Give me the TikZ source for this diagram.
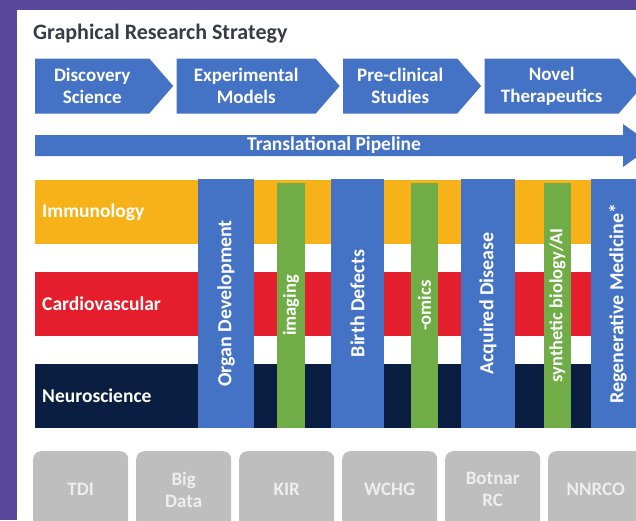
\documentclass[tikz,border=0pt]{standalone}
\usepackage{fontspec}
\setmainfont{Carlito}
\usetikzlibrary{positioning,shapes.symbols}

\definecolor{framepurple}{RGB}{88,72,156}
\definecolor{stageblue}{RGB}{68,114,196}
\definecolor{immyellow}{RGB}{246,178,24}
\definecolor{cardred}{RGB}{228,30,44}
\definecolor{neuronavy}{RGB}{10,30,66}
\definecolor{toolgreen}{RGB}{112,173,71}
\definecolor{unitgray}{RGB}{190,190,190}
\definecolor{unittext}{RGB}{238,238,238}
\definecolor{titlegray}{RGB}{55,60,70}

\begin{document}
\begin{tikzpicture}[x=1pt, y=-1pt,
    stage/.style={signal, signal to=east, signal pointer angle=98, fill=stageblue,
      text=white, font=\bfseries\fontsize{19}{22}\selectfont, align=center,
      minimum height=55pt, inner sep=2pt},
    track/.style={fill=#1, text=white, font=\bfseries\fontsize{19.5}{20}\selectfont,
      minimum height=64pt, text width=542pt, inner sep=7pt, align=left, anchor=north west},
    theme/.style={fill=#1, text=white, rotate=90, inner sep=0pt},
    unit/.style={fill=unitgray, text=unittext, font=\bfseries\fontsize{19}{22}\selectfont,
      rounded corners=8pt, minimum width=95pt, minimum height=77pt, align=center,
      anchor=north west, inner sep=0pt}]
    \def \rowleft{35}
    \def \big{\bfseries\fontsize{20}{20}\selectfont}
    \def \thin{\bfseries\fontsize{18.5}{20}\selectfont}

    \useasboundingbox (0,0) rectangle (636,520);
    \clip (0,0) rectangle (636,520);
    \fill[framepurple] (0,0) rectangle (636,520);
    \fill[white] (17,10) rectangle (660,540);

    \node[anchor=base west, inner sep=0pt, text=titlegray,
      font=\bfseries\fontsize{22}{24}\selectfont] (title) at (33,39) {Graphical Research Strategy};

    % stages
    \node[stage, minimum width=138pt, anchor=west] (disc) at (\rowleft,86) {Discovery\\Science};
    \node[stage, minimum width=163pt, right=3pt of disc] (expt) {Experimental\\Models};
    \node[stage, minimum width=138pt, right=3pt of expt] (precl) {Pre-clinical\\Studies};
    \node[stage, minimum width=158pt, right=3pt of precl] (novel) {Novel\\Therapeutics};

    % pipeline arrow
    \fill[stageblue] (\rowleft,135) -- (623,135) -- (623,124) -- (653,145.5)
      -- (623,167) -- (623,156) -- (\rowleft,156) -- cycle;
    \node[text=white, font=\bfseries\fontsize{19.5}{20}\selectfont] (pipe) at (334,145.5) {Translational Pipeline};

    % research areas
    \foreach \name/\col/\y in {Immunology/immyellow/180, Cardiovascular/cardred/272, Neuroscience/neuronavy/364}{
      \node[track=\col] (\name) at (\rowleft,\y) {\name};
    }

    % themes across the areas
    \foreach \x/\w/\len/\y/\col/\fnt/\txt [count=\i] in {
        226/56/249/303.5/stageblue/\big/{Organ Development},
        291/28/245/305.5/toolgreen/\thin/{imaging},
        357.5/53/249/303.5/stageblue/\big/{Birth Defects},
        424.5/27/245/305.5/toolgreen/\thin/{-omics},
        488/54/249/303.5/stageblue/\big/{Acquired Disease},
        557.5/27/245/305.5/toolgreen/\thin/{synthetic biology/AI},
        618/54/249/303.5/stageblue/\big/{Regenerative Medicine*}}{
      \node[theme=\col, font=\fnt, minimum width=\len pt, minimum height=\w pt] (theme\i) at (\x,\y) {\txt};
    }

    % units
    \foreach \txt [count=\i] in {TDI, {Big\\Data}, KIR, WCHG, {Botnar\\RC}, NNRCO}{
      \node[unit] (unit\i) at ({33+103*(\i-1)},451) {\txt};
    }
\end{tikzpicture}
\end{document}
